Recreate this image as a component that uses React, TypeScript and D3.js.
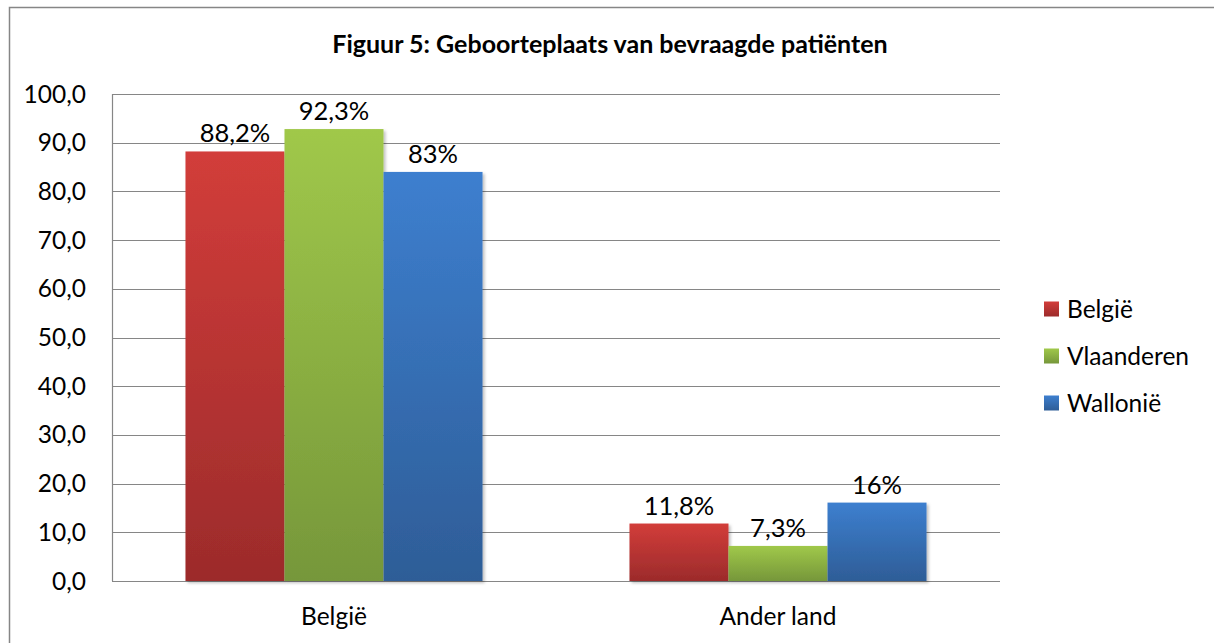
import * as d3 from 'd3';
import React, { useEffect, useRef } from 'react';

const categories = ['België', 'Ander land'];
const series = ['België', 'Vlaanderen', 'Wallonië'];
// bar heights, one array per category
const valuesBelgie = [88.2, 92.8, 84.0];
const valuesAnder = [11.8, 7.2, 16.1];
// the data labels as printed on the chart
const labelsBelgie = ['88,2%', '92,3%', '83%'];
const labelsAnder = ['11,8%', '7,3%', '16%'];
const yTicks = [0, 10, 20, 30, 40, 50, 60, 70, 80, 90, 100];
const title = 'Figuur 5: Geboorteplaats van bevraagde patiënten';

const colors = [
  { top: '#d23d3a', bottom: '#9c2b2b' },
  { top: '#a0c84a', bottom: '#76973a' },
  { top: '#3d7fcf', bottom: '#2e5d97' },
];

export default function App() {
  const ref = useRef<SVGSVGElement>(null);

  useEffect(() => {
    const width = 1214;
    const height = 643;
    const margin = { top: 94, right: 214, bottom: 62, left: 112 };
    const font = 'Lato, Calibri, "Liberation Sans", sans-serif';
    const fontSize = '24.5px';

    const svg = d3.select(ref.current);
    svg.selectAll('*').remove();

    const rows = categories.map((c, i) => ({
      cat: c,
      values: i === 0 ? valuesBelgie : valuesAnder,
      labels: i === 0 ? labelsBelgie : labelsAnder,
    }));

    // gradients
    const defs = svg.append('defs');
    colors.forEach((c, i) => {
      const g = defs.append('linearGradient')
        .attr('id', 'grad' + i)
        .attr('x1', 0).attr('y1', 0).attr('x2', 0).attr('y2', 1);
      g.append('stop').attr('offset', '0%').attr('stop-color', c.top);
      g.append('stop').attr('offset', '100%').attr('stop-color', c.bottom);
    });
    const f = defs.append('filter').attr('id', 'shadow')
      .attr('x', '-10%').attr('y', '-10%').attr('width', '130%').attr('height', '130%');
    f.append('feDropShadow')
      .attr('dx', 2).attr('dy', 2).attr('stdDeviation', 1.5)
      .attr('flood-color', '#000').attr('flood-opacity', 0.25);

    // outer frame (right and bottom edges fall outside the picture)
    svg.append('rect')
      .attr('x', 9.5).attr('y', 7.5)
      .attr('width', width + 20).attr('height', height + 20)
      .attr('fill', 'white')
      .attr('stroke', '#868686')
      .attr('stroke-width', 1.5);

    const x0 = d3.scaleBand()
      .domain(categories)
      .range([margin.left, width - margin.right])
      .paddingInner(0.331)
      .paddingOuter(0.331 / 2);
    const x1 = d3.scaleBand()
      .domain(series)
      .range([0, x0.bandwidth()]);
    const y = d3.scaleLinear()
      .domain([0, 100])
      .range([height - margin.bottom, margin.top]);

    // gridlines
    svg.append('g')
      .selectAll('line')
      .data(yTicks)
      .enter()
      .append('line')
      .attr('x1', margin.left)
      .attr('x2', width - margin.right)
      .attr('y1', d => Math.round(y(d)) + 0.5)
      .attr('y2', d => Math.round(y(d)) + 0.5)
      .attr('stroke', '#868686')
      .attr('stroke-width', 1.2);

    // y axis line
    svg.append('line')
      .attr('x1', margin.left + 0.5).attr('x2', margin.left + 0.5)
      .attr('y1', y(100)).attr('y2', y(0))
      .attr('stroke', '#868686')
      .attr('stroke-width', 1.2);

    // y tick labels
    svg.append('g')
      .selectAll('text')
      .data(yTicks)
      .enter()
      .append('text')
      .attr('x', 86)
      .attr('y', d => y(d) + 8.5)
      .attr('text-anchor', 'end')
      .style('font-family', font)
      .style('font-size', fontSize)
      .attr('fill', '#000')
      .text(d => d3.format('.1f')(d).replace('.', ','));

    // bars
    const groups = svg.append('g')
      .selectAll('g')
      .data(rows)
      .enter()
      .append('g')
      .attr('transform', d => 'translate(' + x0(d.cat) + ',0)');

    groups.selectAll('rect')
      .data(d => d.values.map((v, i) => ({ s: series[i], v: v, i: i })))
      .enter()
      .append('rect')
      .attr('x', d => x1(d.s)!)
      .attr('y', d => y(d.v))
      .attr('width', x1.bandwidth())
      .attr('height', d => y(0) - y(d.v))
      .attr('fill', d => 'url(#grad' + d.i + ')')
      .attr('filter', 'url(#shadow)');

    // data labels
    groups.selectAll('text')
      .data(d => d.values.map((v, i) => ({ s: series[i], v: v, l: d.labels[i] })))
      .enter()
      .append('text')
      .attr('x', d => x1(d.s)! + x1.bandwidth() / 2)
      .attr('y', d => y(d.v) - 9)
      .attr('text-anchor', 'middle')
      .style('font-family', font)
      .style('font-size', '25.5px')
      .attr('fill', '#000')
      .text(d => d.l);

    // category labels
    svg.append('g')
      .selectAll('text')
      .data(categories)
      .enter()
      .append('text')
      .attr('x', d => x0(d)! + x0.bandwidth() / 2)
      .attr('y', 625)
      .attr('text-anchor', 'middle')
      .style('font-family', font)
      .style('font-size', fontSize)
      .attr('fill', '#000')
      .text(d => d);

    // legend
    const legend = svg.append('g')
      .selectAll('g')
      .data(series)
      .enter()
      .append('g')
      .attr('transform', (d, i) => 'translate(1044,' + (309 + i * 47) + ')');
    legend.append('rect')
      .attr('x', 0).attr('y', -7.5)
      .attr('width', 15).attr('height', 15)
      .attr('fill', (d, i) => 'url(#grad' + i + ')');
    legend.append('text')
      .attr('x', 23)
      .attr('y', 9)
      .style('font-family', font)
      .style('font-size', fontSize)
      .attr('fill', '#000')
      .text(d => d);

    // title
    svg.append('text')
      .attr('x', 610)
      .attr('y', 53)
      .attr('text-anchor', 'middle')
      .style('font-family', font)
      .style('font-size', '25px')
      .style('font-weight', 'bold')
      .attr('fill', '#000')
      .text(title);
  }, []);

  return (
    <svg
      ref={ref}
      width={1214}
      height={643}
      style={{ position: 'absolute', left: 0, top: 0, background: 'white' }}
    />
  );
}
